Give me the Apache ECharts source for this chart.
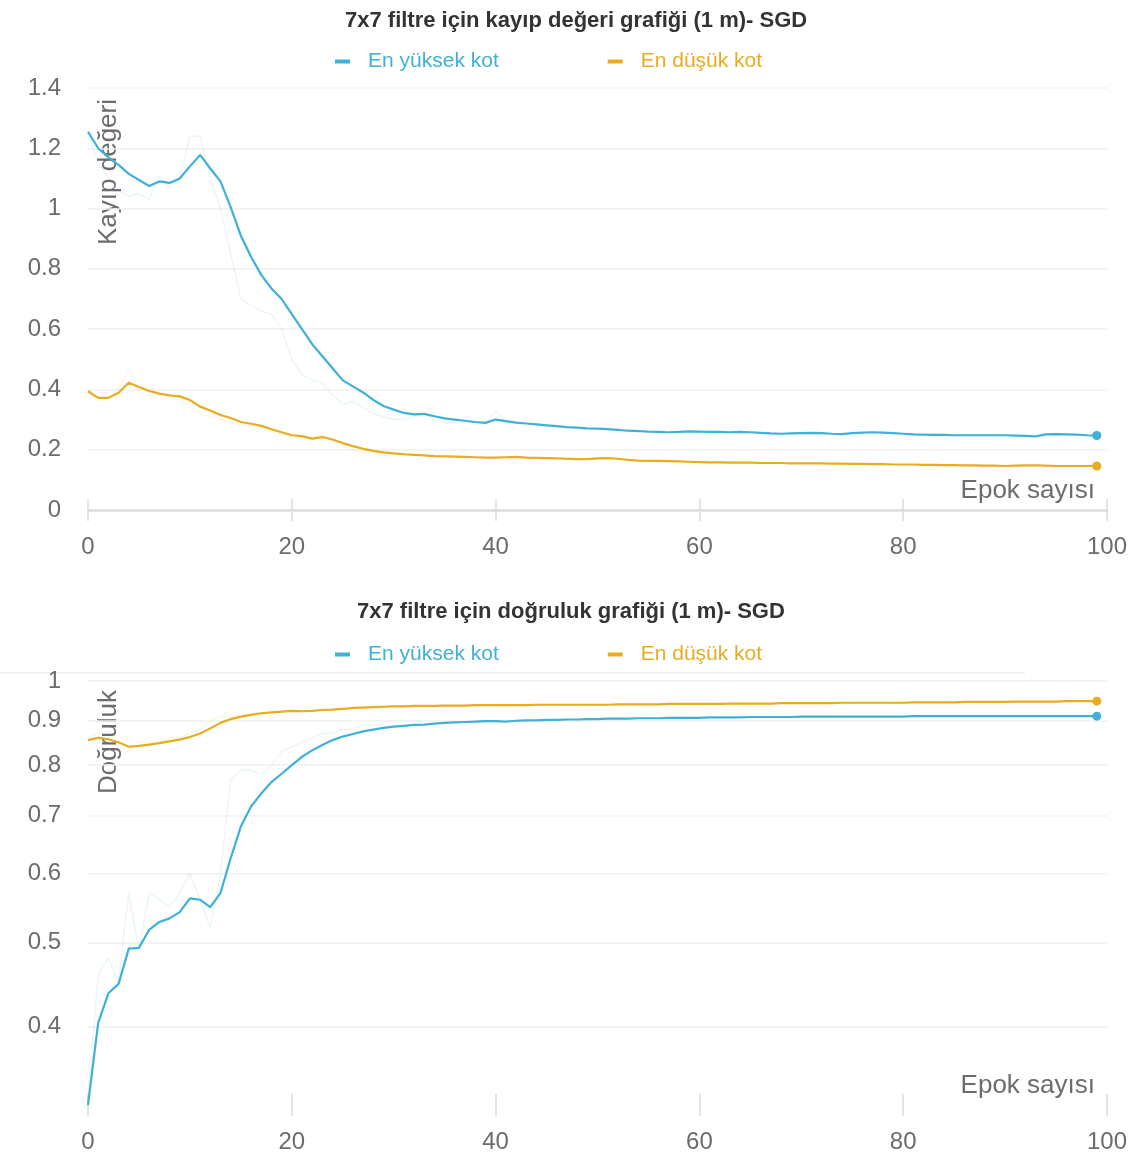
<!DOCTYPE html>
<html><head><meta charset="utf-8">
<script src="https://cdn.jsdelivr.net/npm/echarts@6/dist/echarts.min.js"></script>
<style>html,body{margin:0;padding:0;background:#fff}#c{width:1141px;height:1162px}</style>
</head><body><div id="c"></div>
<script>
const titleLoss = '7x7 filtre için kayıp değeri grafiği (1 m)- SGD';
const titleAcc = '7x7 filtre için doğruluk grafiği (1 m)- SGD';
const seriesNames = ['En yüksek kot', 'En düşük kot'];
const xTicks = [0, 20, 40, 60, 80, 100];
const lossTicks = [0, 0.2, 0.4, 0.6, 0.8, 1, 1.2, 1.4];
const accTicks = [0.4, 0.5, 0.6, 0.7, 0.8, 0.9, 1];

const lossHigh = [1.255,1.20,1.17,1.145,1.115,1.095,1.075,1.09,1.085,1.10,1.14,1.178,1.133,1.09,1.005,0.91,0.84,0.78,0.735,0.70,
0.65,0.60,0.55,0.51,0.47,0.43,0.41,0.39,0.365,0.345,0.333,0.322,0.317,0.319,0.311,0.304,0.300,0.296,0.292,0.289,
0.300,0.295,0.290,0.287,0.284,0.281,0.278,0.275,0.273,0.271,0.270,0.268,0.266,0.263,0.262,0.260,0.259,0.258,0.259,0.261,
0.260,0.259,0.259,0.258,0.259,0.258,0.256,0.254,0.253,0.254,0.255,0.256,0.255,0.253,0.252,0.255,0.257,0.258,0.257,0.255,
0.253,0.251,0.250,0.249,0.249,0.248,0.248,0.248,0.248,0.248,0.248,0.247,0.246,0.244,0.251,0.252,0.251,0.250,0.248,0.247];
const lossLow = [0.394,0.372,0.372,0.389,0.422,0.408,0.395,0.386,0.380,0.377,0.365,0.343,0.330,0.315,0.305,0.292,0.286,0.279,0.268,0.258,
0.248,0.245,0.237,0.242,0.234,0.222,0.212,0.203,0.196,0.191,0.188,0.185,0.183,0.181,0.179,0.178,0.177,0.176,0.175,0.174,
0.174,0.175,0.176,0.174,0.173,0.172,0.171,0.170,0.169,0.169,0.171,0.172,0.170,0.166,0.164,0.163,0.163,0.162,0.161,0.160,
0.159,0.158,0.158,0.157,0.157,0.157,0.156,0.156,0.156,0.155,0.155,0.155,0.155,0.154,0.154,0.153,0.153,0.152,0.152,0.151,
0.151,0.151,0.150,0.150,0.149,0.149,0.148,0.148,0.147,0.147,0.146,0.147,0.148,0.148,0.147,0.146,0.146,0.146,0.146,0.146];
const lossHighRaw = [1.25,1.15,1.10,1.06,1.04,1.05,1.03,1.11,1.07,1.10,1.24,1.24,1.10,1.00,0.85,0.70,0.68,0.66,0.65,0.60,
0.50,0.45,0.43,0.42,0.38,0.35,0.36,0.34,0.32,0.31,0.30,0.30,0.31,0.32,0.30,0.29,0.29,0.29,0.29,0.28,0.33,0.29];
const lossLowRaw = [0.39,0.36,0.37,0.40,0.47,0.39,0.38,0.38,0.37,0.37,0.34,0.32,0.31,0.30,0.29,0.28,0.28,0.27,0.26,0.25,
0.24,0.24,0.23,0.25,0.23,0.21,0.20,0.19,0.19,0.18,0.18];
const accHigh = [0.325,0.404,0.437,0.448,0.492,0.493,0.517,0.528,0.533,0.542,0.562,0.560,0.549,0.570,0.625,0.680,0.717,0.742,0.765,0.782,
0.800,0.818,0.832,0.844,0.855,0.863,0.869,0.875,0.879,0.883,0.886,0.888,0.890,0.891,0.893,0.895,0.896,0.897,0.898,0.899,
0.899,0.898,0.900,0.901,0.901,0.902,0.902,0.903,0.903,0.904,0.904,0.905,0.905,0.905,0.906,0.906,0.906,0.907,0.907,0.907,
0.907,0.908,0.908,0.908,0.908,0.909,0.909,0.909,0.909,0.909,0.910,0.910,0.910,0.910,0.910,0.910,0.910,0.910,0.910,0.910,
0.910,0.911,0.911,0.911,0.911,0.911,0.911,0.911,0.911,0.911,0.911,0.911,0.911,0.911,0.911,0.911,0.911,0.911,0.911,0.911];
const accLow = [0.855,0.860,0.857,0.850,0.840,0.842,0.845,0.848,0.852,0.856,0.862,0.870,0.882,0.895,0.904,0.910,0.914,0.918,0.920,0.922,
0.924,0.923,0.924,0.926,0.927,0.929,0.931,0.932,0.933,0.934,0.935,0.935,0.936,0.936,0.936,0.937,0.937,0.937,0.938,0.938,
0.938,0.938,0.938,0.938,0.939,0.939,0.939,0.939,0.939,0.939,0.939,0.939,0.940,0.940,0.940,0.940,0.940,0.941,0.941,0.941,
0.941,0.941,0.941,0.942,0.942,0.942,0.942,0.942,0.943,0.943,0.943,0.943,0.943,0.943,0.944,0.944,0.944,0.944,0.944,0.944,
0.944,0.945,0.945,0.945,0.945,0.945,0.946,0.946,0.946,0.946,0.946,0.947,0.947,0.947,0.947,0.947,0.948,0.948,0.948,0.948];
const accHighRaw = [0.33,0.46,0.48,0.45,0.57,0.49,0.57,0.56,0.55,0.57,0.60,0.56,0.52,0.60,0.77,0.79,0.79,0.78,0.80,0.83,
0.84,0.85,0.86,0.87,0.87,0.88,0.88,0.89,0.89,0.89];
const accLowRaw = [0.86,0.87,0.85,0.84,0.83,0.85,0.85,0.85,0.86,0.86,0.87,0.88,0.90,0.91,0.91,0.915];

const BLUE = '#3fb0d6', ORANGE = '#e8ac1f';
const BLUE_F = 'rgba(63,176,214,0.11)', ORANGE_F = 'rgba(232,172,31,0.11)';
const pairs = a => a.map((v, i) => [i, v]);
const FONT = 'Liberation Sans, Arial, sans-serif';
const tickFont = {fontSize: 24, color: '#6b6b70', fontFamily: FONT};

function lineSeries(name, data, color, xi, yi) {
  const n = data.length;
  return {name, type: 'line', xAxisIndex: xi, yAxisIndex: yi, data: pairs(data),
    symbol: (v, p) => p.dataIndex === n - 1 ? 'circle' : 'none', symbolSize: 9,
    showAllSymbol: true, lineStyle: {width: 2.2, color}, itemStyle: {color}, z: 5, animation: false};
}
function rawSeries(data, color, xi, yi) {
  return {type: 'line', xAxisIndex: xi, yAxisIndex: yi, data: pairs(data), symbol: 'none',
    lineStyle: {width: 1.5, color}, z: 2, animation: false, silent: true, legendHoverLink: false};
}
function xAx(gi, main) {
  return {type: 'value', gridIndex: gi, min: 0, max: 100, interval: 20, position: 'bottom',
    axisLine: {show: main && gi === 0, lineStyle: {color: '#dcdcdc', width: 2.5}},
    axisTick: {show: true, inside: !main, length: 11, lineStyle: {color: '#dcdcdc', width: 1.5}},
    axisLabel: {show: main, margin: 25, ...tickFont},
    splitLine: {show: false}};
}

const legendCommon = {icon: 'rect', itemWidth: 15, itemHeight: 4, itemGap: 109, left: 330,
  textStyle: {fontSize: 21, fontFamily: FONT, padding: [0, 0, 0, 13]}};
const nameStyle = {fontSize: 26, fill: '#6b6b70', fontFamily: FONT};

const option = {
  backgroundColor: '#fff',
  animation: false,
  title: [
    {text: titleLoss, left: 340, top: 5, textStyle: {fontSize: 22, fontWeight: 'bold', color: '#333', fontFamily: FONT}},
    {text: titleAcc, left: 352, top: 596, textStyle: {fontSize: 22, fontWeight: 'bold', color: '#333', fontFamily: FONT}}
  ],
  legend: [
    {...legendCommon, top: 46,
      data: [{name: seriesNames[0], textStyle: {color: BLUE}}, {name: seriesNames[1], textStyle: {color: ORANGE}}]},
    {...legendCommon, top: 639,
      data: [{name: seriesNames[0], textStyle: {color: BLUE}}, {name: seriesNames[1], textStyle: {color: ORANGE}}]}
  ],
  grid: [
    {left: 88, right: 34, top: 88, height: 422},
    {left: 88, right: 34, top: 681, height: 424}
  ],
  xAxis: [xAx(0, true), xAx(0, false), xAx(1, true), xAx(1, false)],
  yAxis: [
    {type: 'value', gridIndex: 0, min: 0, max: 1.4, interval: 0.2,
      axisLine: {show: false}, axisTick: {show: false},
      axisLabel: {margin: 27, ...tickFont, formatter: v => String(+v.toFixed(1))},
      splitLine: {lineStyle: {color: '#f0f0f0', width: 1.5}}},
    {type: 'log', gridIndex: 1, min: 0.325, max: 1, logBase: 10,
      axisLine: {show: false},
      axisTick: {show: false, customValues: accTicks},
      axisLabel: {margin: 27, ...tickFont, customValues: accTicks, formatter: v => String(+(+v).toFixed(1))},
      splitLine: {show: true, lineStyle: {color: '#f0f0f0', width: 1.5}}}
  ],
  graphic: [
    {type: 'text', x: 96, y: 99, rotation: Math.PI / 2,
      style: {text: 'Kayıp değeri', ...nameStyle, textAlign: 'right', textVerticalAlign: 'top'}},
    {type: 'text', x: 96, y: 690, rotation: Math.PI / 2,
      style: {text: 'Doğruluk', ...nameStyle, textAlign: 'right', textVerticalAlign: 'top'}},
    {type: 'text', x: 1095, y: 491,
      style: {text: 'Epok sayısı', ...nameStyle, textAlign: 'right', textVerticalAlign: 'middle'}},
    {type: 'text', x: 1095, y: 1086,
      style: {text: 'Epok sayısı', ...nameStyle, textAlign: 'right', textVerticalAlign: 'middle'}},
    {type: 'line', shape: {x1: 0, y1: 673, x2: 1025, y2: 673}, style: {stroke: '#ececec', lineWidth: 1.5}}
  ],
  series: [
    rawSeries(lossHighRaw, BLUE_F, 0, 0),
    rawSeries(lossLowRaw, ORANGE_F, 0, 0),
    rawSeries(accHighRaw, BLUE_F, 2, 1),
    rawSeries(accLowRaw, ORANGE_F, 2, 1),
    lineSeries(seriesNames[0], lossHigh, BLUE, 0, 0),
    lineSeries(seriesNames[1], lossLow, ORANGE, 0, 0),
    lineSeries(seriesNames[0], accHigh, BLUE, 2, 1),
    lineSeries(seriesNames[1], accLow, ORANGE, 2, 1)
  ]
};
const chart = echarts.init(document.getElementById('c'), null, {renderer: 'canvas'});
chart.setOption(option);
</script></body></html>
